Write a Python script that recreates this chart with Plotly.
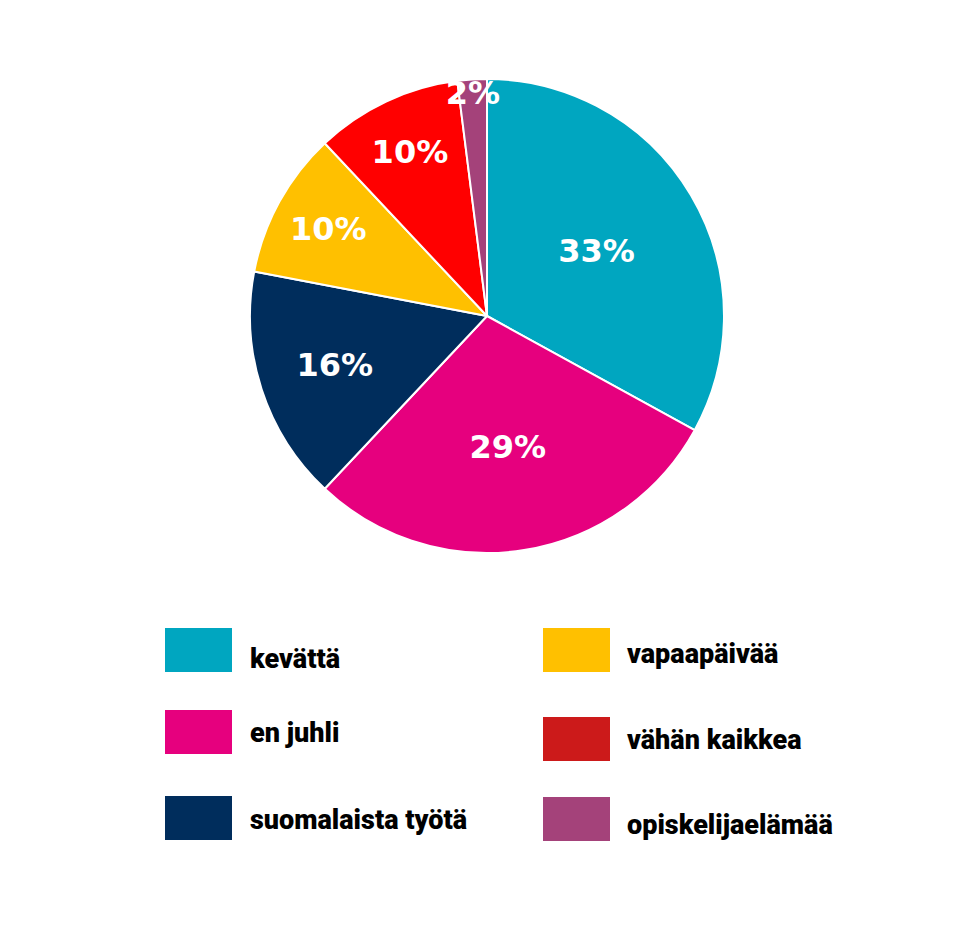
import plotly.graph_objects as go

labels = ["kevättä", "en juhli", "suomalaista työtä", "vapaapäivää", "vähän kaikkea", "opiskelijaelämää"]
shares = [33, 29, 16, 10, 10, 2]
slice_colors = ["#00A6C0", "#E6007E", "#002D5C", "#FFC000", "#FF0000", "#A4427A"]
swatch_colors = ["#00A6C0", "#E6007E", "#002D5C", "#FFC000", "#CC1A1A", "#A4427A"]

W, H = 980, 936
OFF = 8  # page body margin shifts the plot

fig = go.Figure(go.Pie(
    labels=labels,
    values=shares,
    sort=False,
    direction="clockwise",
    rotation=0,
    marker=dict(colors=slice_colors, line=dict(color="white", width=2)),
    texttemplate="%{value}%",
    textposition="inside",
    insidetextorientation="horizontal",
    textfont=dict(family="DejaVu Sans", size=32, color="white", weight=700),
    domain=dict(x=[(250 - OFF) / W, (724 - OFF) / W],
                y=[1 - (553 - OFF) / H, 1 - (79 - OFF) / H]),
    showlegend=False,
    hoverinfo="label+percent",
))

# hand-made legend, two columns of three
shapes = []
annotations = []
cols = [
    dict(sx=165, tx=248, rows=[(628, 659), (710, 733), (796, 820)]),
    dict(sx=543, tx=625, rows=[(628, 654), (717, 740), (797, 825)]),
]
for i, lab in enumerate(labels):
    c = cols[i // 3]
    top, ty = c["rows"][i % 3]
    shapes.append(dict(
        type="rect", xref="paper", yref="paper",
        x0=(c["sx"] - OFF) / W, x1=(c["sx"] + 67 - OFF) / W,
        y0=1 - (top + 44 - OFF) / H, y1=1 - (top - OFF) / H,
        fillcolor=swatch_colors[i], line=dict(width=0),
    ))
    annotations.append(dict(
        text=lab, xref="paper", yref="paper",
        x=(c["tx"] - OFF) / W, y=1 - (ty - OFF) / H,
        xanchor="left", yanchor="middle", showarrow=False,
        font=dict(family="Roboto", size=27, color="black", weight=900),
    ))

fig.update_layout(
    width=W, height=H,
    margin=dict(l=0, r=0, t=0, b=0),
    paper_bgcolor="white",
    plot_bgcolor="white",
    uniformtext=dict(minsize=32, mode="show"),
    shapes=shapes,
    annotations=annotations,
)

fig.write_html("out.html")
